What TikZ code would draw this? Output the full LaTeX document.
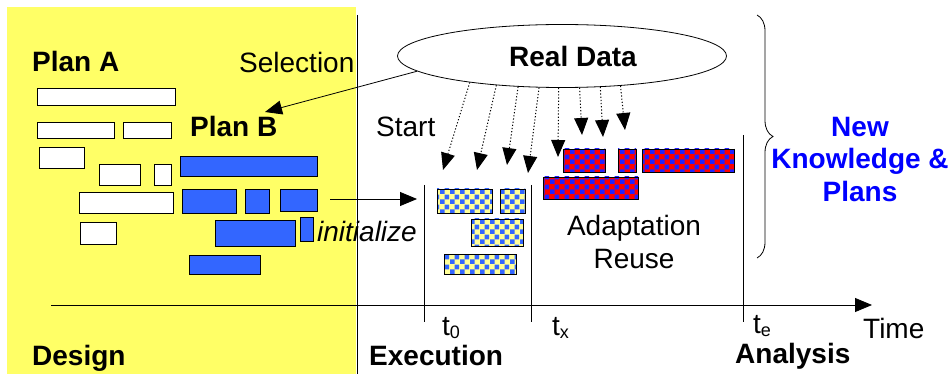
\documentclass[tikz,border=0pt]{standalone}
\usepackage{fontspec}
\setmainfont{Liberation Sans}
\usetikzlibrary{arrows.meta,shapes.geometric,decorations.pathreplacing,patterns.meta}
\definecolor{bgyellow}{HTML}{FFFF66}
\definecolor{planblue}{HTML}{3366FF}
\definecolor{chkyellow}{HTML}{FFFF99}
\definecolor{chkblue}{HTML}{3366FF}
\definecolor{chkred}{HTML}{FF0000}
\definecolor{chkblueb}{HTML}{2222FF}
\definecolor{textblue}{HTML}{0000FF}
\tikzdeclarepattern{
  name=bigchecker,
  type=uncolored,
  bounding box={(0pt,0pt) and (10pt,10pt)},
  tile size={(10pt,10pt)},
  code={\fill (0pt,0pt) rectangle (5pt,5pt); \fill (5pt,5pt) rectangle (10pt,10pt);}
}
\tikzset{
  bigtri/.tip={Triangle[length=17pt,width=14pt]},
  thinline/.style={line width=0.8pt},
  planA/.style={draw=black, fill=white, thinline},
  planB/.style={draw=black, fill=planblue, thinline},
  chkY/.style={draw=black, thinline, preaction={fill=chkyellow}, pattern=bigchecker, pattern color=chkblue},
  chkR/.style={draw=black, thinline, preaction={fill=chkred}, pattern=bigchecker, pattern color=chkblueb},
  lab/.style={font=\fontsize{28}{33}\selectfont, inner sep=0pt},
  blab/.style={font=\fontsize{28}{33}\selectfont\bfseries, inner sep=0pt},
  ilab/.style={font=\fontsize{28}{33}\selectfont\itshape, inner sep=0pt},
  datarrow/.style={line width=1pt, dash pattern=on 1.2pt off 2pt, -{bigtri}},
}
\newcommand{\subsc}[1]{\raisebox{-3pt}{\fontsize{18}{18}\selectfont #1}}
\begin{document}
\begin{tikzpicture}[x=1pt,y=-1pt]
\useasboundingbox (0,0) rectangle (950,374);
% design area
\fill[bgyellow] (7,7) rectangle (356,374);
\draw[thinline] (357,15) -- (357,374);
% plan A
\draw[planA] (37,88) rectangle (175,105);
\draw[planA] (37,122) rectangle (114,138);
\draw[planA] (123,122) rectangle (171,138);
\draw[planA] (39,147) rectangle (84,168);
\draw[planA] (99,164) rectangle (140,185);
\draw[planA] (154,164) rectangle (171,185);
\draw[planA] (79,192) rectangle (173,213);
\draw[planA] (80,222) rectangle (116,244);
% plan B
\draw[planB] (180,156) rectangle (317,176);
\draw[planB] (182,189) rectangle (236,213);
\draw[planB] (245,189) rectangle (269,213);
\draw[planB] (280,189) rectangle (317,211);
\draw[planB] (215,220) rectangle (295,246);
\draw[planB] (300,217) rectangle (313,241);
\draw[planB] (189,255) rectangle (260,274);
% execution bars
\draw[chkY] (437,189) rectangle (492,213);
\draw[chkY] (500,189) rectangle (525,213);
\draw[chkY] (471,219) rectangle (523,246);
\draw[chkY] (444,254) rectangle (516,274);
% adaptation bars
\draw[chkR] (563,149) rectangle (605,172);
\draw[chkR] (618,149) rectangle (636,172);
\draw[chkR] (642,149) rectangle (734,172);
\draw[chkR] (543,177) rectangle (638,199);
% time lines
\draw[thinline] (424,185) -- (424,322);
\draw[thinline] (531,185) -- (531,322);
\draw[thinline] (743,135) -- (743,322);
\coordinate (tstart) at (51,305);
\coordinate (tend) at (872,305);
\draw[thinline,-{bigtri}] (tstart) -- (tend);
% labels
\node[blab, anchor=base west] (planAt) at (32,72) {Plan A};
\node[lab, anchor=base west] (selt) at (239,73) {Selection};
\node[blab, anchor=base west] (planBt) at (190,137) {Plan B};
\node[lab, anchor=base west] (startt) at (376,137) {Start};
\node[ilab, anchor=base west] (initt) at (317,241) {initialize};
\node[lab, anchor=base, align=center] (adaptt) at (634,268) {Adaptation\\Reuse};
\node[blab, anchor=base west] (designt) at (32,365) {Design};
\node[blab, anchor=base west] (exect) at (369,365) {Execution};
\node[blab, anchor=base west] (analt) at (735,363) {Analysis};
\node[lab, anchor=base west] (timet) at (863,338) {Time};
\node[lab, anchor=base west] (t0t) at (442,335) {t\subsc{0}};
\node[lab, anchor=base west] (txt) at (552,335) {t\subsc{x}};
\node[lab, anchor=base west] (tet) at (753,333) {t\subsc{e}};
\node[blab, text=textblue, anchor=base, align=center] (newk) at (860,202) {New\\Knowledge \&\\Plans};
% real data
\node[blab, draw, thinline, ellipse, minimum width=329pt, minimum height=63pt] (rd) at (562,56) {\hspace*{22pt}Real Data};
\coordinate (selend) at (265,112);
\draw[thinline,-{bigtri}] (rd.186) -- (selend);
\coordinate (d1) at (443,170);
\coordinate (d2) at (477,170);
\coordinate (d3) at (507,165);
\coordinate (d4) at (528,173);
\coordinate (d5) at (558,157);
\coordinate (d6) at (582,135);
\coordinate (d7) at (603,137);
\coordinate (d8) at (625,130);
\draw[datarrow] (rd.196.6) -- (d1);
\draw[datarrow] (rd.204.4) -- (d2);
\draw[datarrow] (rd.215.3) -- (d3);
\draw[datarrow] (rd.234.8) -- (d4);
\draw[datarrow] (rd.264.6) -- (d5);
\draw[datarrow] (rd.299.9) -- (d6);
\draw[datarrow] (rd.321.2) -- (d7);
\draw[datarrow] (rd.333) -- (d8);
% initialize
\coordinate (inis) at (330,199);
\coordinate (inie) at (417,199);
\draw[thinline,-{bigtri}] (inis) -- (inie);
% brace
\coordinate (brt) at (757,15);
\coordinate (brb) at (757,258);
\draw[thinline, decorate, decoration={brace, amplitude=16pt}] (brt) -- (brb);
\end{tikzpicture}
\end{document}
